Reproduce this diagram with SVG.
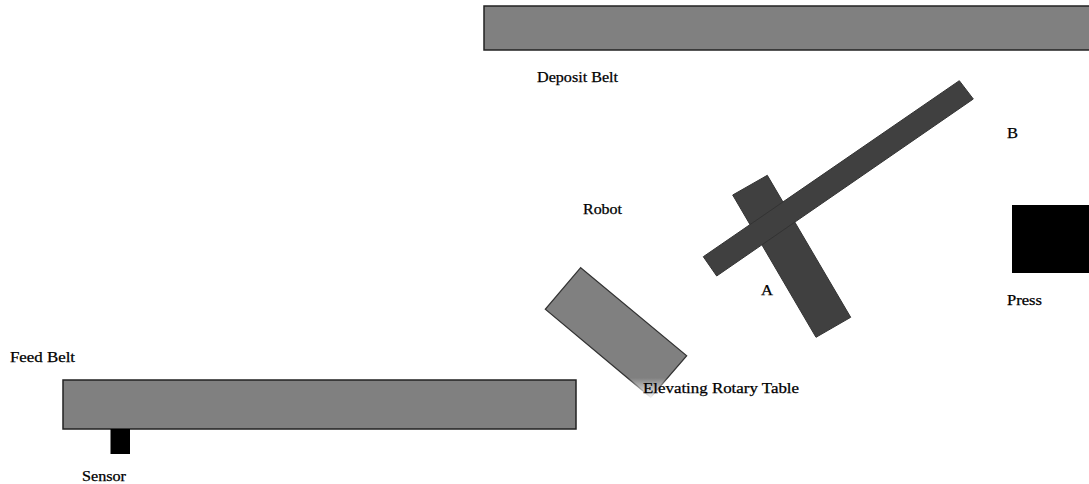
<svg xmlns="http://www.w3.org/2000/svg" width="1089" height="484" viewBox="0 0 1089 484">
<style>
text{font-family:"Liberation Serif","Times New Roman",serif;font-size:14px;fill:#000;stroke:#000;stroke-width:.25}
.belt{fill:#808080;stroke:#222;stroke-width:1.5}
.arm{fill:#404040;stroke:#333;stroke-width:1}
.solid{fill:#000}
</style>
<defs>
<linearGradient id="fade" gradientUnits="userSpaceOnUse" x1="0" y1="378" x2="0" y2="397">
<stop offset="0" stop-color="#808080"/><stop offset="1" stop-color="#f4f4f4"/>
</linearGradient>
<linearGradient id="fadeS" gradientUnits="userSpaceOnUse" x1="0" y1="378" x2="0" y2="397">
<stop offset="0" stop-color="#333"/><stop offset="1" stop-color="#eee"/>
</linearGradient>
</defs>
<rect width="1089" height="484" fill="#fff"/>
<g id="deposit-belt"><rect class="belt" x="484" y="6" width="606" height="44"/><text x="537" y="82" textLength="81" lengthAdjust="spacingAndGlyphs">Deposit Belt</text></g>
<g id="feed-belt"><rect class="belt" x="63" y="380" width="513" height="49"/><text x="10" y="362" textLength="65" lengthAdjust="spacingAndGlyphs">Feed Belt</text></g>
<g id="sensor"><rect class="solid" x="110.500" y="429" width="19.500" height="25"/><text x="82" y="481" textLength="44" lengthAdjust="spacingAndGlyphs">Sensor</text></g>
<g id="table"><polygon points="580.700,267.700 686.700,355.700 650.700,397.300 545.300,309.300" fill="url(#fade)" stroke="url(#fadeS)" stroke-width="1.200"/><text x="643" y="393" textLength="156" lengthAdjust="spacingAndGlyphs">Elevating Rotary Table</text></g>
<g id="robot"><polygon class="arm" points="732.700,195 767.300,175.300 850.700,317.300 816,337.300"/><polygon class="arm" points="959.300,80.700 973.300,99 716.700,276 703.300,256.700"/><text x="583" y="214" textLength="39" lengthAdjust="spacingAndGlyphs">Robot</text><text x="761" y="295" textLength="12" lengthAdjust="spacingAndGlyphs">A</text><text x="1007" y="138" textLength="11" lengthAdjust="spacingAndGlyphs">B</text></g>
<g id="press"><rect class="solid" x="1012" y="205" width="78" height="68"/><text x="1007" y="305" textLength="35" lengthAdjust="spacingAndGlyphs">Press</text></g>
<g id="connectors"/>
</svg>
